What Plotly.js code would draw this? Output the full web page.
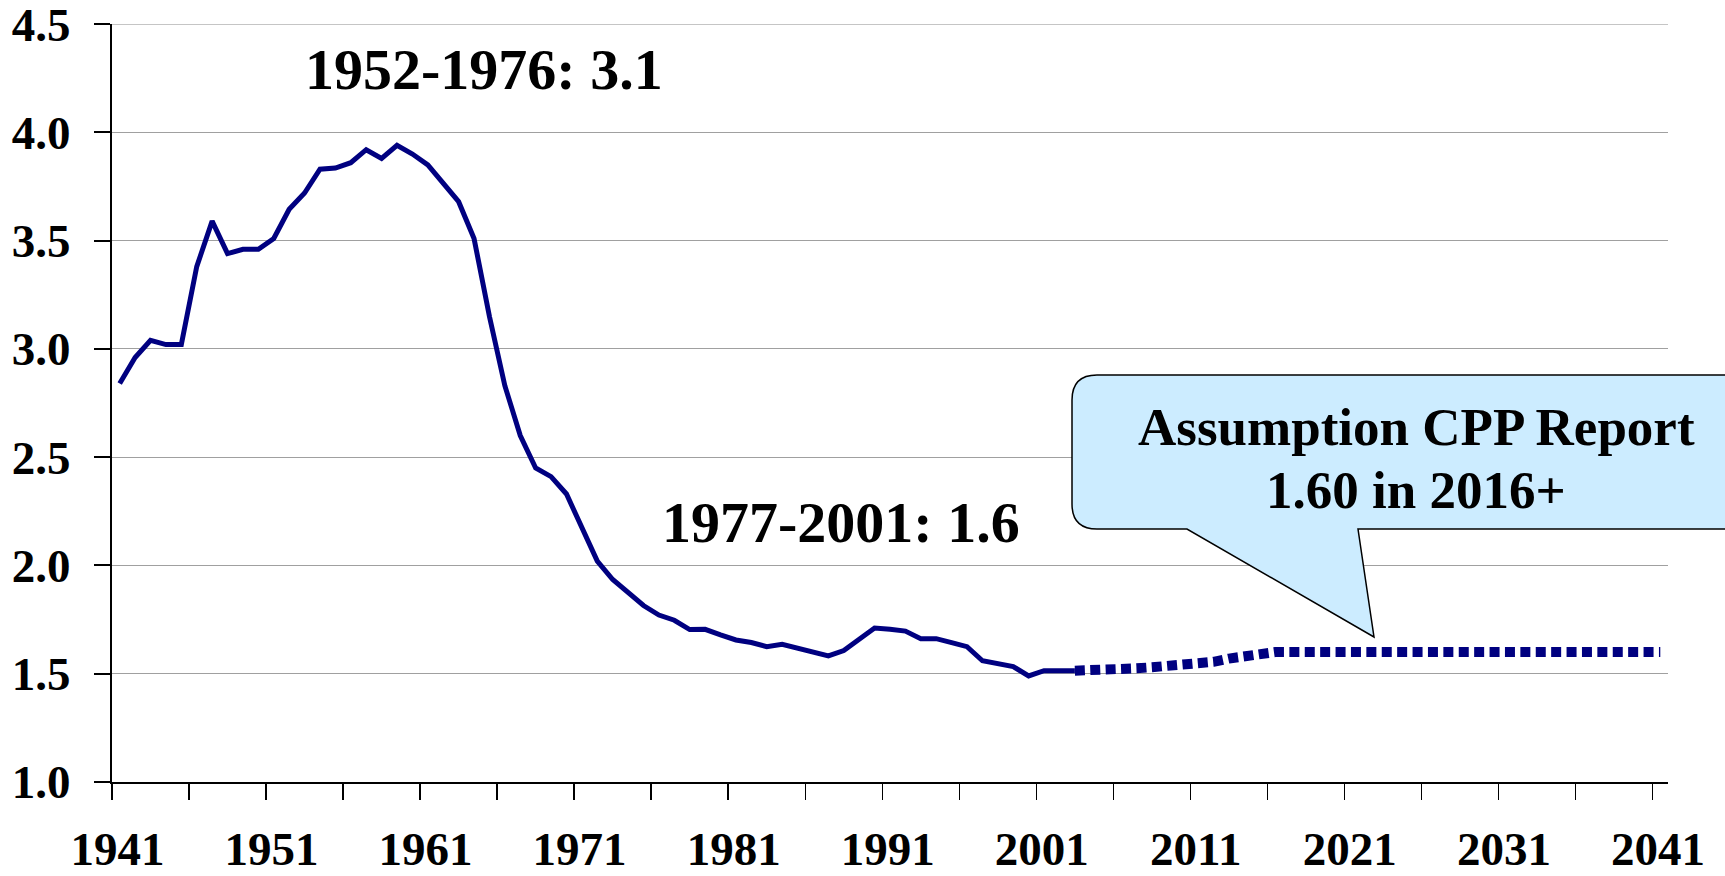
<!DOCTYPE html>
<html>
<head>
<meta charset="utf-8">
<script src="https://cdn.plot.ly/plotly-3.0.1.min.js"></script>
<style>html,body{margin:0;padding:0;background:#fff;}#chart{width:1725px;height:876px;}</style>
</head>
<body>
<div id="chart"></div>
<script>
// ---- data ----
const actualStartYear = 1941;
const actualTFR = [
  2.84, 2.96, 3.04, 3.02, 3.02, 3.38, 3.59, 3.44, 3.46, 3.46,
  3.51, 3.645, 3.72, 3.83, 3.835, 3.86, 3.92, 3.88, 3.94, 3.90,
  3.85, 3.765, 3.68, 3.51, 3.15, 2.83, 2.60, 2.45, 2.41, 2.33,
  2.18, 2.02, 1.935, 1.878, 1.815, 1.771, 1.747, 1.704, 1.705, 1.679,
  1.656, 1.644, 1.625, 1.636, 1.618, 1.60, 1.582, 1.607, 1.66, 1.711,
  1.705, 1.697, 1.662, 1.662, 1.644, 1.625, 1.56, 1.544, 1.533, 1.49,
  1.514, 1.514, 1.514
];
const projStartYear = 2003;
const projectedTFR = [
  1.514, 1.515, 1.515, 1.518, 1.525, 1.53, 1.535, 1.54, 1.545, 1.555,
  1.57, 1.58, 1.593, 1.60, 1.60, 1.60, 1.60, 1.60, 1.60, 1.60,
  1.60, 1.60, 1.60, 1.60, 1.60, 1.60, 1.60, 1.60, 1.60, 1.60,
  1.60, 1.60, 1.60, 1.60, 1.60, 1.60, 1.60, 1.60, 1.60
];
const xTickLabels = ['1941','1951','1961','1971','1981','1991','2001','2011','2021','2031','2041'];
const yTickLabels = ['1.0','1.5','2.0','2.5','3.0','3.5','4.0','4.5'];
const labelPeriod1 = '1952-1976: 3.1';
const labelPeriod2 = '1977-2001: 1.6';
const calloutLines = ['Assumption CPP Report', '1.60 in 2016+'];

// ---- build ----
const actualYears = actualTFR.map((_, i) => actualStartYear + i);
const projYears = projectedTFR.map((_, i) => projStartYear + i);
const firstYear = Number(xTickLabels[0]);
const lastYear = Number(xTickLabels[xTickLabels.length - 1]);
// tick marks sit on category boundaries, every 5 years
const tickMarkVals = [];
for (let y = firstYear; y <= lastYear; y += 5) tickMarkVals.push(y - 0.5);
const tickLabelVals = xTickLabels.map(s => Number(s) - 0.15);
const yTickVals = yTickLabels.map(Number);

const navy = '#000080';
const serif = 'Liberation Serif, Times New Roman, serif';
const xRange = [firstYear - 0.5, lastYear + 0.5];

const traces = [
  {x: actualYears, y: actualTFR, type: 'scatter', mode: 'lines',
   line: {color: navy, width: 5}, hoverinfo: 'skip'},
  {x: projYears, y: projectedTFR, type: 'scatter', mode: 'lines', xaxis: 'x2',
   line: {color: navy, width: 10, dash: '10px,5.4px'}, hoverinfo: 'skip'}
];

// plot area in pixels: left 112, right 1668, top 24, bottom 782
const L = 112, R = 1668, T = 24, B = 782;
const px = X => (X - L) / (R - L);
const py = Y => (B - Y) / (B - T);

const bx0 = 1072, bx1 = 1770, by0 = 375, by1 = 529, rad = 25;
const pts = [
  'M', px(bx0 + rad), py(by0),
  'L', px(bx1), py(by0),
  'L', px(bx1), py(by1),
  'L', px(1358), py(by1),
  'L', px(1374), py(637),
  'L', px(1187), py(by1),
  'L', px(bx0 + rad), py(by1),
  'Q', px(bx0), py(by1), px(bx0), py(by1 - rad),
  'L', px(bx0), py(by0 + rad),
  'Q', px(bx0), py(by0), px(bx0 + rad), py(by0),
  'Z'
];
let path = '';
let i = 0;
while (i < pts.length) {
  const cmd = pts[i++];
  path += cmd;
  const nums = [];
  while (i < pts.length && typeof pts[i] === 'number') nums.push(pts[i++].toFixed(5));
  for (let k = 0; k < nums.length; k += 2) path += (k ? ' ' : '') + nums[k] + ',' + nums[k + 1];
  path += ' ';
}

const tickFont = {family: serif, size: 47, color: '#000', weight: 'bold'};

const layout = {
  width: 1725, height: 876,
  margin: {l: L, r: 1725 - R, t: T, b: 876 - B, pad: 0},
  paper_bgcolor: '#ffffff', plot_bgcolor: '#ffffff',
  showlegend: false, hovermode: false,
  xaxis: {
    range: xRange, tickmode: 'array', tickvals: tickMarkVals, showticklabels: false,
    ticks: 'outside', ticklen: 16, tickwidth: 1.5, tickcolor: '#000',
    showgrid: false, zeroline: false, showline: true, linecolor: '#000', linewidth: 2
  },
  xaxis2: {
    range: xRange, overlaying: 'x', anchor: 'y', side: 'bottom',
    tickmode: 'array', tickvals: tickLabelVals, ticktext: xTickLabels,
    ticks: 'outside', ticklen: 16, tickcolor: 'rgba(0,0,0,0)',
    showgrid: false, zeroline: false, showline: false,
    tickfont: tickFont, ticklabelstandoff: 10, ticklabeloverflow: 'allow'
  },
  yaxis: {
    range: [1, 4.5005], tickmode: 'array', tickvals: yTickVals, ticktext: yTickLabels,
    ticks: 'outside', ticklen: 16, tickwidth: 2, tickcolor: '#000',
    showgrid: true, gridcolor: '#a0a0a0', gridwidth: 1,
    zeroline: false, showline: true, linecolor: '#000', linewidth: 2,
    tickfont: tickFont, ticklabelstandoff: 14, ticklabeloverflow: 'allow'
  },
  shapes: [
    {type: 'line', xref: 'paper', yref: 'y', x0: 0, x1: 1, y0: yTickVals[yTickVals.length - 1], y1: yTickVals[yTickVals.length - 1],
     line: {color: '#a0a0a0', width: 1}, layer: 'below'},
    {type: 'path', xref: 'paper', yref: 'paper', path: path,
     fillcolor: '#CCECFF', line: {color: '#000', width: 1.5}, layer: 'above'}
  ],
  annotations: [
    {text: '<b>' + labelPeriod1 + '</b>', xref: 'paper', yref: 'paper', x: px(484), y: py(70),
     xanchor: 'center', yanchor: 'middle', showarrow: false,
     font: {family: serif, size: 58, color: '#000'}},
    {text: '<b>' + labelPeriod2 + '</b>', xref: 'paper', yref: 'paper', x: px(841), y: py(522),
     xanchor: 'center', yanchor: 'middle', showarrow: false,
     font: {family: serif, size: 58, color: '#000'}},
    {text: '<b>' + calloutLines[0] + '</b>', xref: 'paper', yref: 'paper', x: px(1416), y: py(427),
     xanchor: 'center', yanchor: 'middle', showarrow: false,
     font: {family: serif, size: 53, color: '#000'}},
    {text: '<b>' + calloutLines[1] + '</b>', xref: 'paper', yref: 'paper', x: px(1416), y: py(490),
     xanchor: 'center', yanchor: 'middle', showarrow: false,
     font: {family: serif, size: 53, color: '#000'}}
  ]
};

Plotly.newPlot('chart', traces, layout, {displayModeBar: false, staticPlot: true});
</script>
</body>
</html>
